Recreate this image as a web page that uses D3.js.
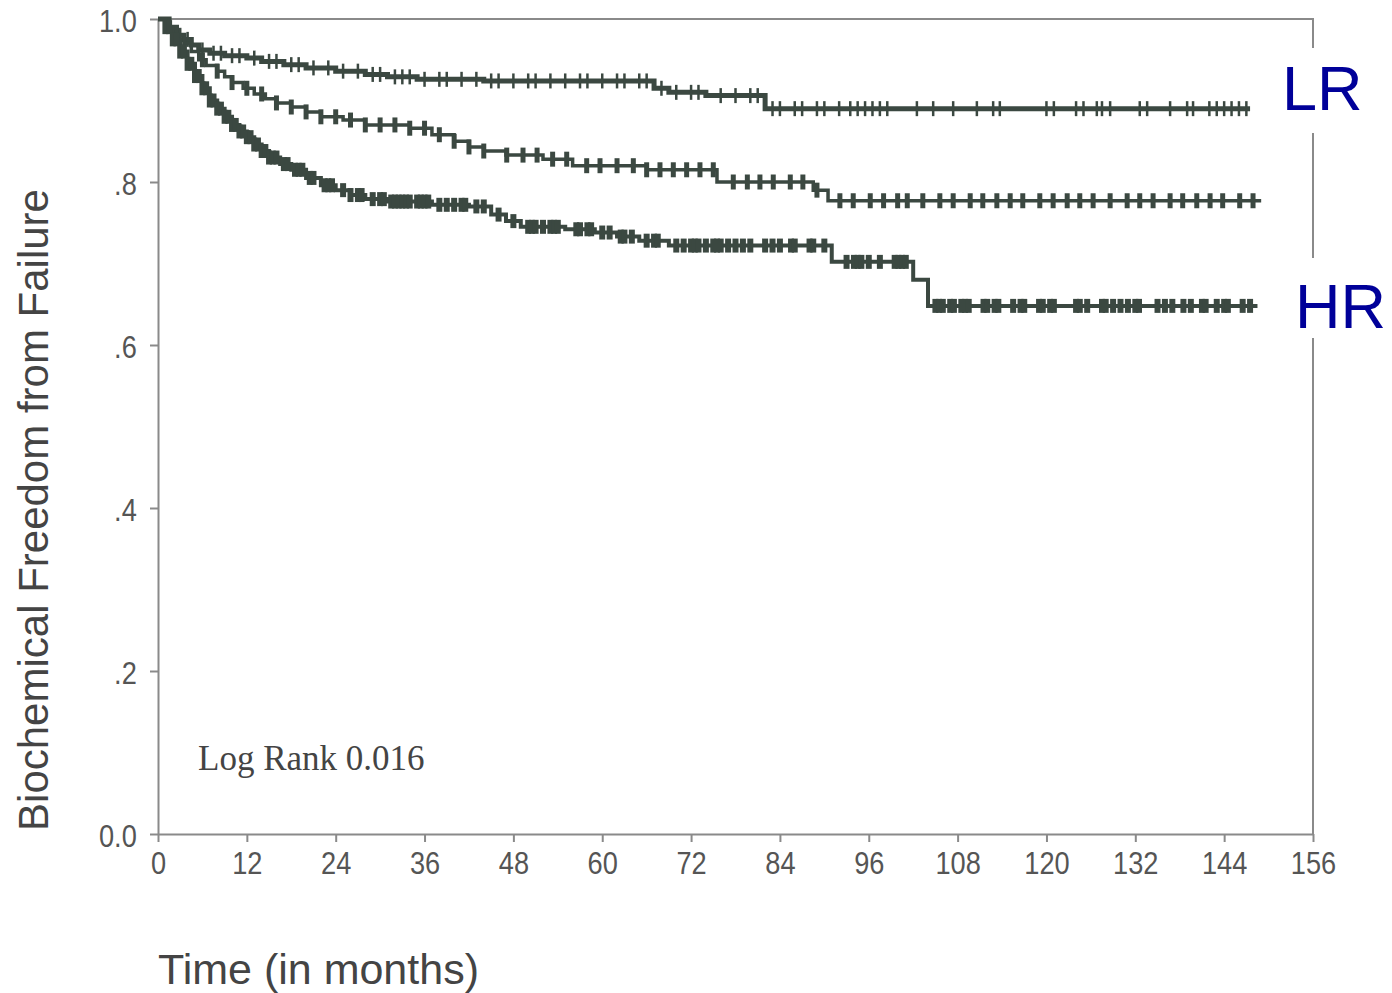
<!DOCTYPE html>
<html>
<head>
<meta charset="utf-8">
<script src="https://cdn.jsdelivr.net/npm/d3@7"></script>
<style>
  body { margin: 0; background: #fff; }
  svg text { font-family: "Liberation Sans", Arial, sans-serif; }
</style>
</head>
<body>
<div id="viz"></div>
<script>
// step times (months) and survival after each step
var lrTimes = [0, 1.5, 2.5, 3.5, 4.5, 5.5, 7, 9, 12, 14, 17, 20, 24, 28, 31, 35, 44, 67, 69, 74, 82];
var lrSurv  = [1.0, 0.99, 0.98, 0.975, 0.968, 0.962, 0.958, 0.955, 0.952, 0.948, 0.944, 0.94, 0.936, 0.932, 0.929, 0.926, 0.924, 0.915, 0.91, 0.906, 0.89];
var lrEnd = 147.5;
var lrCensor = [3, 4, 6, 7.5, 8.5, 10, 11, 13, 15, 16, 18, 19, 21, 23, 25, 27, 29, 30, 32, 33, 34, 36, 38, 39, 41, 43, 45, 46, 48, 50, 51, 53, 55, 57, 58, 60, 62, 63, 65, 66, 68, 70, 72, 73, 76, 78, 80, 81, 83, 84, 86, 87, 89, 90, 92, 93.5, 94.5, 95.5, 96.5, 97.5, 98.5, 102.5, 104.7, 107.4, 110.6, 112.8, 113.7, 120, 121, 124, 125, 126.8, 127.5, 128.6, 132.6, 133.6, 136.7, 139, 139.8, 142, 143, 144, 145, 146, 147];

var midTimes = [0, 1.5, 2.5, 3.5, 4.5, 5.5, 6.5, 8, 9, 10, 11.5, 13, 14.5, 16, 18, 20, 22, 25, 28, 34, 37, 40, 42, 44, 47, 52, 56, 66, 75.5, 88.5, 90.5];
var midSurv  = [1.0, 0.99, 0.98, 0.97, 0.96, 0.95, 0.943, 0.936, 0.929, 0.922, 0.915, 0.908, 0.902, 0.897, 0.892, 0.886, 0.88, 0.876, 0.87, 0.866, 0.858, 0.85, 0.843, 0.838, 0.833, 0.828, 0.82, 0.815, 0.80, 0.79, 0.777];
var midEnd = 149;
var midCensor = [6, 8, 10, 12, 14, 16, 18, 20, 22, 24, 26, 28, 30, 32, 34, 36, 38, 40, 42, 44, 47.1, 49.3, 51.2, 53.3, 55.2, 57.9, 59.7, 62, 64.2, 66, 67.8, 69.6, 71.4, 73.2, 75, 77.7, 79.6, 81.3, 83.1, 85.4, 87.1, 89, 92.1, 93.9, 96.2, 98, 99.9, 101.2, 103.3, 105.6, 107.4, 109.7, 111.4, 113.3, 115.1, 116.8, 119.1, 120.9, 122.8, 124.5, 126.3, 128.6, 130.9, 132.6, 134.4, 136.7, 138.4, 140.3, 142.1, 143.8, 146.1, 147.9];

var hrTimes = [0, 1, 2, 3, 4, 5, 6, 7, 8, 9, 10, 11, 12, 13, 14, 15, 16.5, 18, 20, 22, 24, 26, 28, 31, 37, 42, 45, 47, 49, 55, 59, 62, 65, 69, 91, 102, 104];
var hrSurv  = [1.0, 0.99, 0.975, 0.96, 0.945, 0.93, 0.915, 0.9, 0.89, 0.88, 0.87, 0.862, 0.855, 0.846, 0.838, 0.83, 0.822, 0.815, 0.805, 0.796, 0.79, 0.784, 0.779, 0.776, 0.772, 0.77, 0.76, 0.752, 0.745, 0.742, 0.738, 0.733, 0.728, 0.722, 0.702, 0.68, 0.648];
var hrEnd = 148.5;
var hrCensor = [1, 1.5, 2, 2.5, 3, 3.5, 4, 4.5, 5, 5.5, 6, 6.5, 7, 7.5, 8, 8.5, 9, 9.5, 10, 10.5, 11, 11.5, 12, 12.5, 13, 13.5, 14, 14.5, 15, 15.5, 16, 17, 17.5, 18.5, 19, 19.5, 20.5, 21, 22.5, 23, 23.5, 25, 26, 27, 27.5, 29, 30, 30.5, 31.5, 32, 32.5, 33, 33.5, 34, 35, 35.5, 36, 36.5, 38, 39, 40, 41, 41.5, 43, 44, 46, 48, 50, 50.5, 51, 52, 53, 53.5, 54, 56.5, 57, 58, 58.5, 60, 61, 62.5, 63, 64, 66, 67, 67.5, 70, 71, 72, 72.5, 73, 74, 75, 75.5, 76, 77, 78, 79, 80, 82, 83, 84, 85.5, 86, 88, 88.5, 90, 93, 94, 94.5, 95, 96, 97.5, 99.5, 100, 100.5, 101, 105, 105.5, 106, 107, 107.5, 108.5, 109, 109.5, 111.5, 112, 113, 113.5, 115.5, 116.5, 117, 119, 119.5, 120.5, 121, 124, 124.5, 125.5, 127.5, 128, 129, 130, 131, 132, 132.5, 135, 136, 137, 138.5, 139.5, 141, 141.5, 143, 144, 144.5, 146.5, 147.5];

var xTicks = [0, 12, 24, 36, 48, 60, 72, 84, 96, 108, 120, 132, 144, 156];
var yTicks = [0, 0.2, 0.4, 0.6, 0.8, 1.0];
var yTickLabels = ['0.0', '.2', '.4', '.6', '.8', '1.0'];

var lineColor = '#3b4841';
var axisColor = '#8a8a8a';

var svg = d3.select('#viz').append('svg')
  .attr('width', 1392)
  .attr('height', 993);

var x = d3.scaleLinear().domain([0, 156]).range([158, 1313]);
var y = d3.scaleLinear().domain([0, 1]).range([834, 19]);

// frame top + right
svg.append('path')
  .attr('d', 'M' + x(0) + ',' + y(1) + 'H' + x(156) + 'V' + y(0))
  .attr('fill', 'none')
  .attr('stroke', axisColor)
  .attr('stroke-width', 2);

var xAxis = svg.append('g')
  .attr('transform', 'translate(0,' + y(0) + ')')
  .call(d3.axisBottom(x).tickValues(xTicks).tickSize(8).tickPadding(8).tickSizeOuter(0));
var yAxis = svg.append('g')
  .attr('transform', 'translate(' + x(0) + ',0)')
  .call(d3.axisLeft(y).tickValues(yTicks).tickFormat((d, i) => yTickLabels[i]).tickSize(8).tickPadding(15).tickSizeOuter(0));

[xAxis, yAxis].forEach(function(a) {
  a.select('.domain').attr('stroke', axisColor).attr('stroke-width', 2);
  a.selectAll('.tick line').attr('stroke', axisColor).attr('stroke-width', 2);
  a.selectAll('.tick text')
    .attr('fill', '#555')
    .style('font-size', '32px')
    .style('font-family', '"Liberation Sans", Arial, sans-serif')
    .attr('transform', 'scale(0.85,1)');
});
yAxis.selectAll('.tick text').attr('x', -25).attr('dy', '0.38em');
xAxis.selectAll('.tick text').attr('y', 17);

var stepLine = d3.line()
  .x(d => x(d[0]))
  .y(d => y(d[1]))
  .curve(d3.curveStepAfter);

function makePts(times, surv, end) {
  var pts = times.map((t, i) => [t, surv[i]]);
  pts.push([end, surv[surv.length - 1]]);
  return pts;
}
function survAt(times, surv, t) {
  return surv[d3.bisectRight(times, t) - 1];
}

var groups = [
  {name: 'LR', times: lrTimes, surv: lrSurv, end: lrEnd, censor: lrCensor, lw: 5, tw: 2.5, th: 15},
  {name: 'MID', times: midTimes, surv: midSurv, end: midEnd, censor: midCensor, lw: 3.5, tw: 5, th: 15},
  {name: 'HR', times: hrTimes, surv: hrSurv, end: hrEnd, censor: hrCensor, lw: 4, tw: 6, th: 14}
];

groups.forEach(function(g) {
  svg.append('path')
    .datum(makePts(g.times, g.surv, g.end))
    .attr('fill', 'none')
    .attr('stroke', lineColor)
    .attr('stroke-width', g.lw)
    .attr('d', stepLine);
  svg.append('g').selectAll('line')
    .data(g.censor)
    .enter().append('line')
    .attr('x1', d => x(d)).attr('x2', d => x(d))
    .attr('y1', d => y(survAt(g.times, g.surv, d)) - g.th / 2)
    .attr('y2', d => y(survAt(g.times, g.surv, d)) + g.th / 2)
    .attr('stroke', lineColor)
    .attr('stroke-width', g.tw);
});

svg.append('text')
  .attr('x', 198).attr('y', 770)
  .style('font-family', '"Liberation Serif", "Times New Roman", serif')
  .style('font-size', '35px')
  .attr('fill', '#444')
  .text('Log Rank 0.016');

svg.append('text')
  .attr('transform', 'translate(48,510) rotate(-90)')
  .attr('text-anchor', 'middle')
  .style('font-size', '42px')
  .attr('fill', '#444')
  .text('Biochemical Freedom from Failure');

svg.append('text')
  .attr('x', 158).attr('y', 984)
  .style('font-size', '43px')
  .attr('fill', '#444')
  .text('Time (in months)');

// group labels on white patches
svg.append('rect').attr('x', 1278).attr('y', 48).attr('width', 100).attr('height', 85).attr('fill', '#fff');
svg.append('rect').attr('x', 1290).attr('y', 258).attr('width', 102).attr('height', 80).attr('fill', '#fff');
svg.append('text')
  .attr('x', 1282).attr('y', 110)
  .style('font-size', '63px')
  .attr('fill', '#000099')
  .text('LR');
svg.append('text')
  .attr('x', 1295).attr('y', 328)
  .style('font-size', '63px')
  .attr('fill', '#000099')
  .text('HR');
</script>
</body>
</html>
